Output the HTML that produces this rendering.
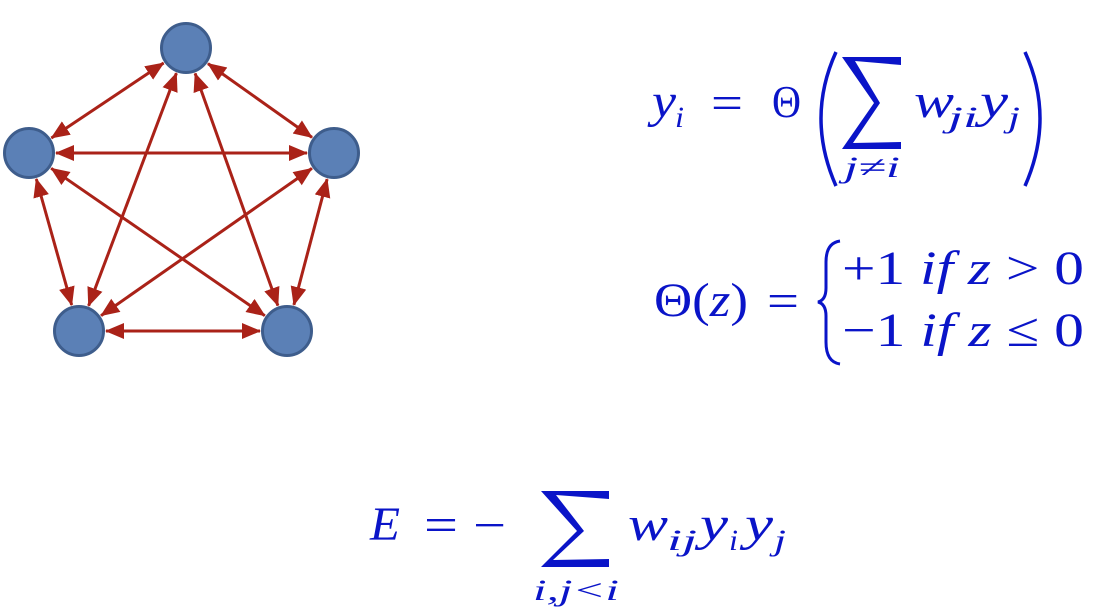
<!DOCTYPE html>
<html><head><meta charset="utf-8"><style>
html,body{margin:0;padding:0;background:#fff;width:1100px;height:616px;overflow:hidden}
svg{display:block}
text{font-family:"Liberation Serif","DejaVu Serif",serif;fill:#0a14c8}
.it{font-style:italic}
</style></head><body>
<svg width="1100" height="616" viewBox="0 0 1100 616">
<defs>
<marker id="a" markerUnits="userSpaceOnUse" markerWidth="20" markerHeight="18" refX="18" refY="8" orient="auto-start-reverse">
<path d="M0,0 L19,8 L0,16 z" fill="#aa2218"/>
</marker>
</defs>
<g stroke="#aa2218" stroke-width="3" marker-start="url(#a)" marker-end="url(#a)">
<line x1="163.6" y1="63" x2="51.4" y2="138"/>
<line x1="208" y1="63.6" x2="312" y2="137.4"/>
<line x1="176.4" y1="73.2" x2="88.6" y2="305.8"/>
<line x1="195.1" y1="73.4" x2="277.9" y2="305.6"/>
<line x1="56" y1="153" x2="307" y2="153"/>
<line x1="51.2" y1="168.3" x2="264.8" y2="315.7"/>
<line x1="311.9" y1="168.4" x2="101.1" y2="315.6"/>
<line x1="36.3" y1="179" x2="71.7" y2="305"/>
<line x1="327.1" y1="179.1" x2="293.9" y2="304.9"/>
<line x1="106" y1="331" x2="260" y2="331"/>
</g>
<g fill="#5b80b6" stroke="#3e5d8c" stroke-width="3">
<circle cx="186" cy="48" r="24.5"/>
<circle cx="29" cy="153" r="24.5"/>
<circle cx="334" cy="153" r="24.5"/>
<circle cx="79" cy="331" r="24.5"/>
<circle cx="287" cy="331" r="24.5"/>
</g>

<!-- formula 1 -->
<text x="652" y="117" font-size="48" class="it" textLength="24" lengthAdjust="spacingAndGlyphs">y</text>
<text x="675" y="127" font-size="30" class="it" textLength="9" lengthAdjust="spacingAndGlyphs">i</text>
<text x="711" y="119" font-size="48" textLength="32" lengthAdjust="spacingAndGlyphs">=</text>
<text x="772" y="117" font-size="46" textLength="29" lengthAdjust="spacingAndGlyphs">Θ</text>
<path d="M836,52 Q806,118 836,186" fill="none" stroke="#0a14c8" stroke-width="3.5"/>
<path d="M1025,52 Q1055,118 1025,186" fill="none" stroke="#0a14c8" stroke-width="3.5"/>
<path d="M842,57 L901,57 L901,65 L855,61 L880,103 L853,143 L901,142 L901,149 L842,149 L874,103 Z" fill="#0a14c8"/>
<text x="844" y="177" font-size="30" class="it" textLength="56" lengthAdjust="spacingAndGlyphs">j≠i</text>
<text x="914" y="117" font-size="48" class="it" textLength="40" lengthAdjust="spacingAndGlyphs">w</text>
<text x="948" y="127" font-size="30" class="it" textLength="30" lengthAdjust="spacingAndGlyphs">ji</text>
<text x="980" y="117" font-size="48" class="it" textLength="28" lengthAdjust="spacingAndGlyphs">y</text>
<text x="1008" y="127" font-size="30" class="it" textLength="12" lengthAdjust="spacingAndGlyphs">j</text>

<!-- formula 2 -->
<text x="654" y="316" font-size="48" textLength="94" lengthAdjust="spacingAndGlyphs">Θ(<tspan class="it">z</tspan>)</text>
<text x="767" y="317" font-size="48" textLength="32" lengthAdjust="spacingAndGlyphs">=</text>
<path d="M840,241 Q826,243 826,262 L826,288 Q826,300 818,302 Q826,304 826,316 L826,342 Q826,362 840,364" fill="none" stroke="#0a14c8" stroke-width="3"/>
<text x="842" y="284" font-size="48" textLength="242" lengthAdjust="spacingAndGlyphs">+1 <tspan class="it">if z</tspan> &gt; 0</text>
<text x="842" y="346" font-size="48" textLength="242" lengthAdjust="spacingAndGlyphs">−1 <tspan class="it">if z</tspan> ≤ 0</text>

<!-- formula 3 -->
<text x="370" y="540" font-size="48" class="it" textLength="30" lengthAdjust="spacingAndGlyphs">E</text>
<text x="424" y="541" font-size="48" textLength="34" lengthAdjust="spacingAndGlyphs">=</text>
<text x="473" y="541" font-size="48" textLength="33" lengthAdjust="spacingAndGlyphs">−</text>
<path d="M541,491 L609,491 L609,499 L556,495 L584,531 L553,560 L609,559 L609,567 L541,567 L577,531 Z" fill="#0a14c8"/>
<text x="533" y="600" font-size="30" class="it" textLength="86" lengthAdjust="spacingAndGlyphs">i,j&lt;i</text>
<text x="628" y="540" font-size="48" class="it" textLength="40" lengthAdjust="spacingAndGlyphs">w</text>
<text x="667" y="550" font-size="30" class="it" textLength="30" lengthAdjust="spacingAndGlyphs">ij</text>
<text x="700" y="540" font-size="48" class="it" textLength="28" lengthAdjust="spacingAndGlyphs">y</text>
<text x="729" y="550" font-size="30" class="it" textLength="9" lengthAdjust="spacingAndGlyphs">i</text>
<text x="745" y="540" font-size="48" class="it" textLength="28" lengthAdjust="spacingAndGlyphs">y</text>
<text x="774" y="550" font-size="30" class="it" textLength="12" lengthAdjust="spacingAndGlyphs">j</text>
</svg>
</body></html>
